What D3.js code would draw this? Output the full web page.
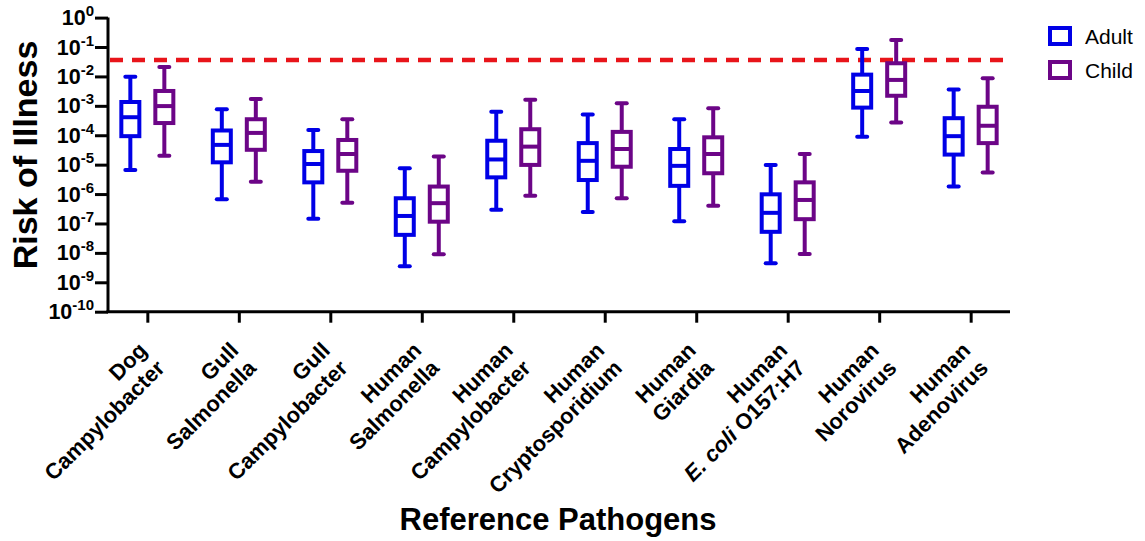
<!DOCTYPE html>
<html>
<head>
<meta charset="utf-8">
<script src="https://cdn.jsdelivr.net/npm/d3@7"></script>
<style>
  html, body { margin: 0; padding: 0; background: #fff; }
  svg { display: block; font-family: "Liberation Sans", Arial, Helvetica, sans-serif; }
</style>
</head>
<body>
<svg id="chart" width="1145" height="541"></svg>
<script>
// ---------------- data ----------------
const categoryTop = ["Dog", "Gull", "Gull", "Human", "Human", "Human", "Human", "Human", "Human", "Human"];
const categoryBottom = ["Campylobacter", "Salmonella", "Campylobacter", "Salmonella", "Campylobacter",
  "Cryptosporidium", "Giardia", "*E. coli* O157:H7", "Norovirus", "Adenovirus"];

const seriesNames = ["Adult", "Child"];

// box-plot statistics (risk of illness)
const adultMin    = [6.6e-6, 6.6e-7, 1.45e-7, 3.5e-9, 2.9e-7, 2.45e-7, 1.2e-7, 4.4e-9, 8.9e-5, 1.8e-6];
const adultQ1     = [9.3e-5, 1.2e-5, 2.5e-6, 4.1e-8, 3.7e-6, 3.0e-6, 1.9e-6, 5.2e-8, 8.7e-4, 2.2e-5];
const adultMedian = [4.1e-4, 4.7e-5, 1.05e-5, 1.8e-7, 1.5e-5, 1.35e-5, 9.1e-6, 2.3e-7, 3.2e-3, 9.3e-5];
const adultQ3     = [1.35e-3, 1.45e-4, 2.9e-5, 7.2e-7, 6.5e-5, 5.4e-5, 3.4e-5, 9.8e-7, 1.15e-2, 3.8e-4];
const adultMax    = [9.8e-3, 7.6e-4, 1.5e-4, 7.6e-6, 6.3e-4, 5.1e-4, 3.5e-4, 9.8e-6, 8.5e-2, 3.6e-3];

const childMin    = [2.0e-5, 2.6e-6, 5.1e-7, 8.9e-9, 8.7e-7, 7.2e-7, 4.0e-7, 9.1e-9, 2.7e-4, 5.4e-6];
const childQ1     = [2.6e-4, 3.2e-5, 6.2e-6, 1.15e-7, 9.8e-6, 8.5e-6, 5.1e-6, 1.4e-7, 2.2e-3, 5.4e-5];
const childMedian = [9.8e-4, 1.2e-4, 2.3e-5, 4.9e-7, 4.1e-5, 3.4e-5, 2.3e-5, 6.3e-7, 7.6e-3, 2.1e-4];
const childQ3     = [3.2e-3, 3.5e-4, 6.9e-5, 1.8e-6, 1.6e-4, 1.3e-4, 8.5e-5, 2.5e-6, 2.8e-2, 9.3e-4];
const childMax    = [2.1e-2, 1.7e-3, 3.5e-4, 1.9e-5, 1.6e-3, 1.23e-3, 8.3e-4, 2.3e-5, 1.74e-1, 8.7e-3];

const benchmark = 0.036;   // red dashed reference line

const yTickExponents = [0, -1, -2, -3, -4, -5, -6, -7, -8, -9, -10];

// ---------------- layout ----------------
const svg = d3.select("#chart");
const plotLeft = 108, plotRight = 1010, plotTop = 17.6, plotBottom = 311.7;
const colors = { Adult: "#0000e6", Child: "#6c0587" };
const offsets = { Adult: -17, Child: 17 };

const x = d3.scalePoint()
  .domain(d3.range(categoryTop.length))
  .range([plotLeft, plotRight])
  .padding(0.43);

const y = d3.scaleLog().domain([1e-10, 1]).range([plotBottom, plotTop]);

// ---------------- axes ----------------
const yAxis = d3.axisLeft(y)
  .tickValues(yTickExponents.map(e => Math.pow(10, e)))
  .tickSize(13)
  .tickFormat(() => "");
const gy = svg.append("g").attr("transform", `translate(${plotLeft},0)`).call(yAxis);
gy.select(".domain").attr("stroke", "#000").attr("stroke-width", 3).attr("d", `M0,${plotTop}V${plotBottom}`);
gy.selectAll(".tick line").attr("stroke", "#000").attr("stroke-width", 3);
gy.selectAll(".tick").each(function(d) {
  const e = Math.round(Math.log10(d));
  const t = d3.select(this).append("text")
    .attr("x", -14).attr("y", 7)
    .attr("text-anchor", "end")
    .attr("fill", "#000")
    .attr("font-weight", "bold")
    .attr("font-size", 21.5);
  t.append("tspan").text("10");
  t.append("tspan").attr("font-size", 15).attr("dy", -9).text(String(e));
});

const xAxis = d3.axisBottom(x).tickSize(11).tickFormat(() => "");
const gx = svg.append("g").attr("transform", `translate(0,${plotBottom})`).call(xAxis);
gx.select(".domain").attr("stroke", "#000").attr("stroke-width", 3).attr("d", `M${plotLeft - 1.5},0H${plotRight}`);
gx.selectAll(".tick line").attr("stroke", "#000").attr("stroke-width", 3);

// x tick labels (two lines, rotated)
gx.selectAll(".tick").each(function(d) {
  const g = d3.select(this).append("g")
    .attr("transform", "translate(0.5,40) rotate(-45)");
  g.append("text")
    .attr("text-anchor", "end").attr("fill", "#000")
    .attr("font-weight", "bold").attr("font-size", 22)
    .text(categoryTop[d]);
  const t2 = g.append("text")
    .attr("text-anchor", "end").attr("fill", "#000")
    .attr("font-weight", "bold").attr("font-size", 22)
    .attr("y", 25);
  const parts = categoryBottom[d].split("*");
  parts.forEach((p, i) => {
    if (p.length === 0) return;
    t2.append("tspan").attr("font-style", i % 2 === 1 ? "italic" : "normal").text(p);
  });
});

// ---------------- benchmark line ----------------
svg.append("line")
  .attr("x1", plotLeft + 2).attr("x2", 1005)
  .attr("y1", y(benchmark)).attr("y2", y(benchmark))
  .attr("stroke", "#e8141a").attr("stroke-width", 4.5)
  .attr("stroke-dasharray", "13,9");

// ---------------- boxes ----------------
const stats = {
  Adult: { min: adultMin, q1: adultQ1, med: adultMedian, q3: adultQ3, max: adultMax },
  Child: { min: childMin, q1: childQ1, med: childMedian, q3: childQ3, max: childMax }
};
const boxW = 18, capHalf = 5;

seriesNames.forEach(name => {
  const s = stats[name];
  const col = colors[name];
  const g = svg.append("g").attr("stroke", col).attr("stroke-width", 4).attr("fill", "none");
  categoryTop.forEach((_, i) => {
    const cx = x(i) + offsets[name];
    g.append("line").attr("x1", cx).attr("x2", cx).attr("y1", y(s.max[i])).attr("y2", y(s.q3[i]));
    g.append("line").attr("x1", cx).attr("x2", cx).attr("y1", y(s.q1[i])).attr("y2", y(s.min[i]));
    g.append("line").attr("x1", cx - capHalf).attr("x2", cx + capHalf)
      .attr("y1", y(s.max[i])).attr("y2", y(s.max[i])).attr("stroke-linecap", "round");
    g.append("line").attr("x1", cx - capHalf).attr("x2", cx + capHalf)
      .attr("y1", y(s.min[i])).attr("y2", y(s.min[i])).attr("stroke-linecap", "round");
    g.append("rect")
      .attr("x", cx - boxW / 2).attr("width", boxW)
      .attr("y", y(s.q3[i])).attr("height", y(s.q1[i]) - y(s.q3[i]))
      .attr("fill", "#fff");
    g.append("line").attr("x1", cx - boxW / 2).attr("x2", cx + boxW / 2)
      .attr("y1", y(s.med[i])).attr("y2", y(s.med[i]));
  });
});

// ---------------- legend ----------------
const legend = svg.append("g").attr("transform", "translate(1050,28)");
seriesNames.forEach((name, i) => {
  const lg = legend.append("g").attr("transform", `translate(0,${i * 34})`);
  lg.append("rect").attr("x", 0).attr("y", 0).attr("width", 20).attr("height", 16)
    .attr("fill", "#fff").attr("stroke", colors[name]).attr("stroke-width", 4);
  lg.append("text").attr("x", 35).attr("y", 15.5)
    .attr("font-size", 21).attr("fill", "#000").text(name);
});

// ---------------- axis titles ----------------
svg.append("text")
  .attr("transform", "translate(37,155) rotate(-90)")
  .attr("text-anchor", "middle")
  .attr("font-weight", "bold").attr("font-size", 34).attr("fill", "#000")
  .text("Risk of Illness");

svg.append("text")
  .attr("x", 558).attr("y", 530)
  .attr("text-anchor", "middle")
  .attr("font-weight", "bold").attr("font-size", 31).attr("fill", "#000")
  .text("Reference Pathogens");
</script>
</body>
</html>
